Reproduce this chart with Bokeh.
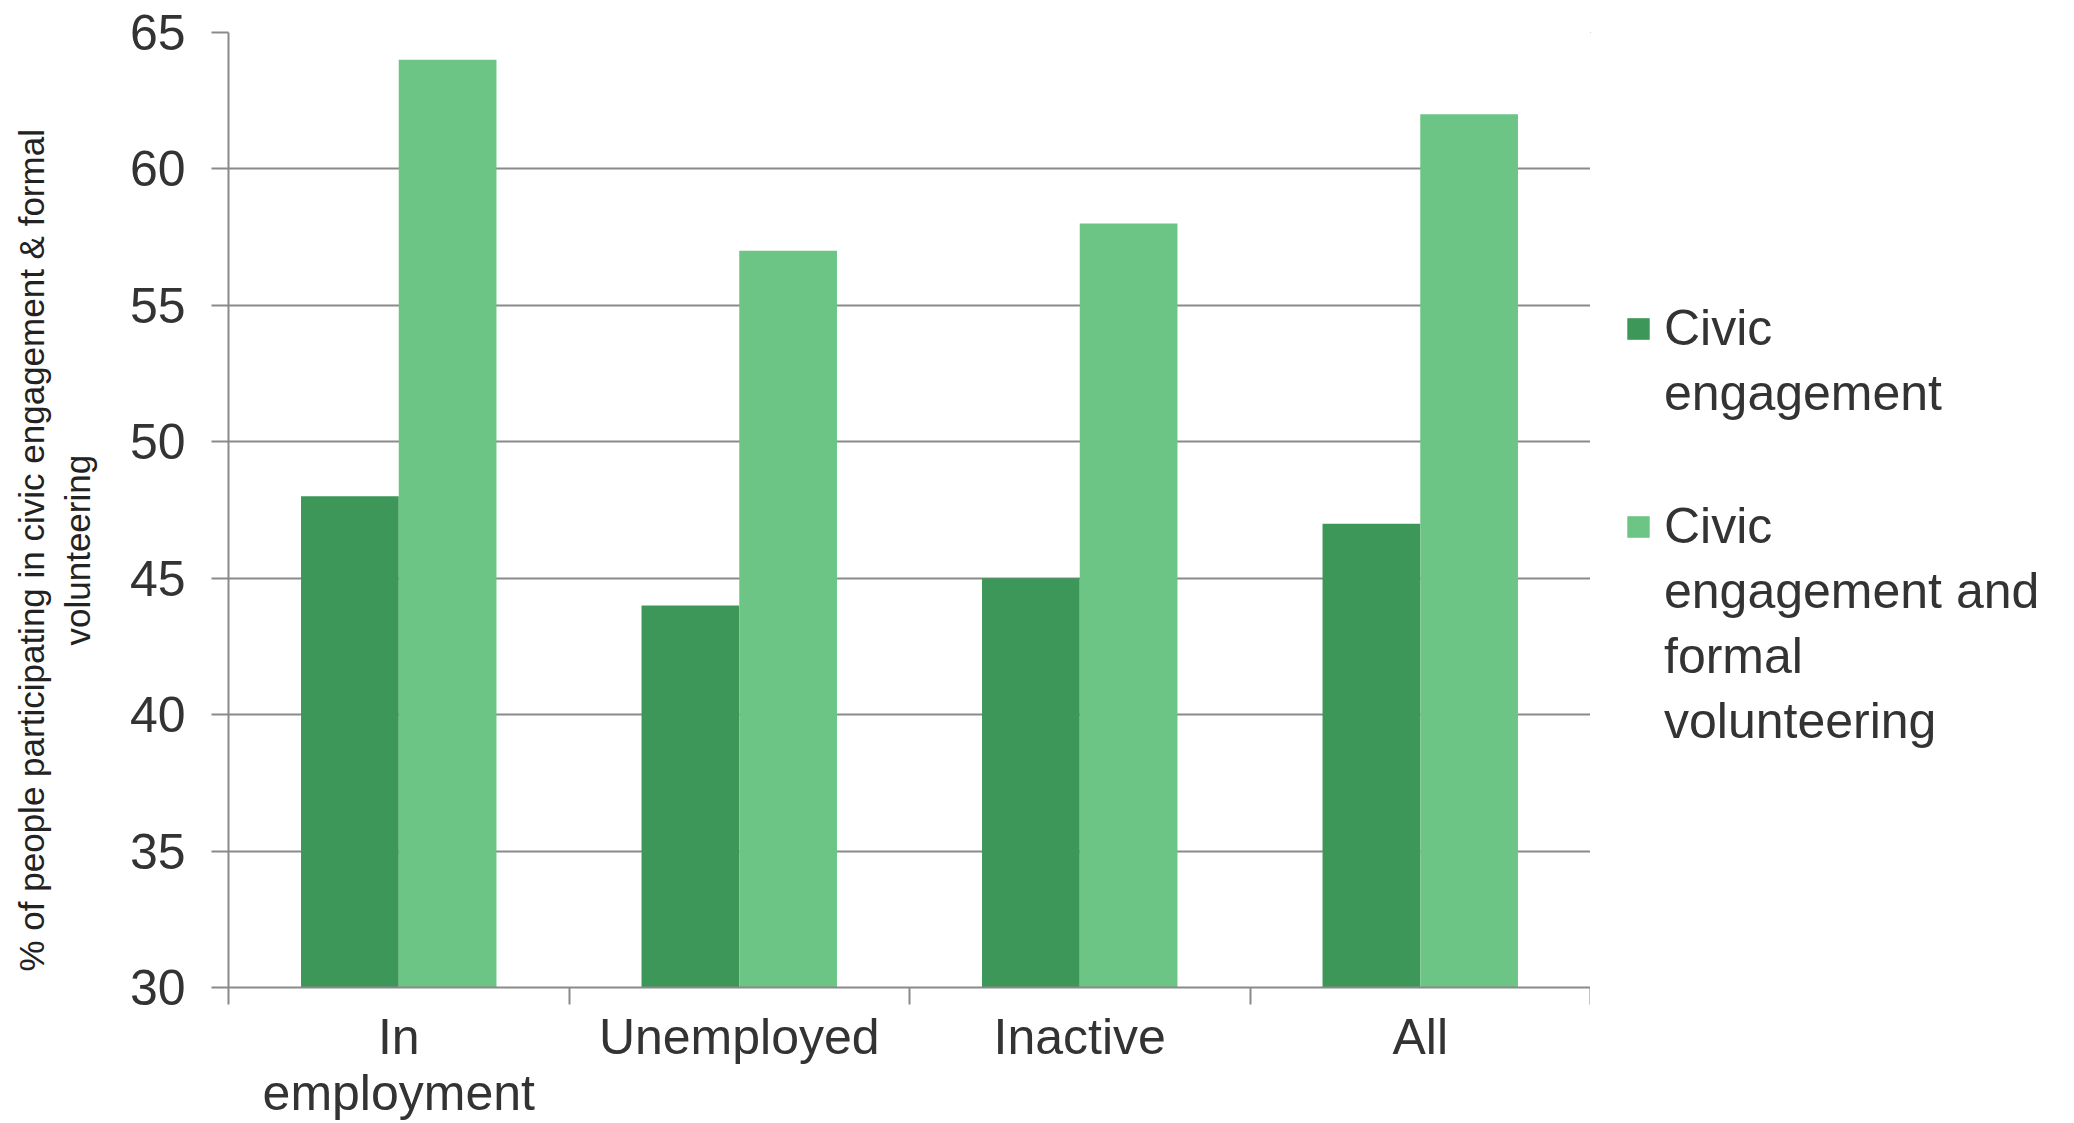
from bokeh.plotting import figure
from bokeh.layouts import row
from bokeh.models import Range1d, FixedTicker, Legend, LegendItem, Title
from bokeh.embed import file_html
from bokeh.resources import INLINE

# ---- data ----
categories = ["In\nemployment", "Unemployed", "Inactive", "All"]
civic_engagement = [48, 44, 45, 47]
civic_and_formal_volunteering = [64, 57, 58, 62]
y_tick_values = [30, 35, 40, 45, 50, 55, 60, 65]
series_1_lines = ["Civic", "engagement"]
series_2_lines = ["Civic", "engagement and", "formal", "volunteering"]
y_axis_title_lines = ["% of people participating in civic engagement  & formal", "volunteering"]

# ---- style ----
DARK = "#3d9758"
LIGHT = "#6cc585"
GRID = "#8a8a8a"
TEXT = "#333333"
FONT = "Liberation Sans"
BAR_W = 0.287

W, H = 2074, 1123
LEFT, TOP, BOTTOM = 228, 32, 136
FRAME_W = 1362
LEGEND_W = W - LEFT - FRAME_W

n = len(categories)
centers = list(range(n))
boundaries = [i - 0.5 for i in range(n + 1)]

p = figure(width=LEFT + FRAME_W, height=H,
           x_range=Range1d(-0.5, n - 0.5), y_range=Range1d(30, 65),
           output_backend="svg", toolbar_location=None,
           min_border_left=LEFT, min_border_top=TOP,
           min_border_right=0, min_border_bottom=BOTTOM)
p.outline_line_color = None
p.background_fill_color = "white"
p.border_fill_color = "white"

r1 = p.vbar(x=[c - BAR_W / 2 for c in centers], top=civic_engagement, bottom=30,
            width=BAR_W, fill_color=DARK, line_color=None)
r2 = p.vbar(x=[c + BAR_W / 2 for c in centers], top=civic_and_formal_volunteering, bottom=30,
            width=BAR_W, fill_color=LIGHT, line_color=None)

# x axis
xa = p.xaxis[0]
xa.ticker = FixedTicker(ticks=centers, minor_ticks=boundaries)
xa.major_label_overrides = {i: c for i, c in enumerate(categories)}
xa.major_tick_out = 0
xa.major_tick_in = 0
xa.major_tick_line_color = None
xa.minor_tick_out = 17
xa.minor_tick_in = 0
xa.minor_tick_line_color = GRID
xa.minor_tick_line_width = 2
xa.axis_line_color = GRID
xa.axis_line_width = 2
xa.major_label_standoff = 4
xa.major_label_text_font = FONT
xa.major_label_text_font_size = "50px"
xa.major_label_text_color = TEXT
xa.major_label_text_line_height = 1.0
p.xgrid.visible = False

# y axis
ya = p.yaxis[0]
ya.ticker = FixedTicker(ticks=y_tick_values, minor_ticks=[])
ya.major_tick_out = 17
ya.major_tick_in = 0
ya.major_tick_line_color = GRID
ya.major_tick_line_width = 2
ya.minor_tick_line_color = None
ya.axis_line_color = GRID
ya.axis_line_width = 2
ya.major_label_standoff = 26
ya.major_label_text_font = FONT
ya.major_label_text_font_size = "50px"
ya.major_label_text_color = TEXT
p.ygrid.grid_line_color = GRID
p.ygrid.grid_line_width = 2

# y axis title: two side titles (inner line first), each line centred on its own
spacer = Title(text=" ", text_font_size="1px", standoff=21)
t_inner = Title(text=y_axis_title_lines[1], align="left", offset=342, standoff=11,
                text_font=FONT, text_font_size="35px", text_font_style="normal",
                text_color="#222222")
t_outer = Title(text=y_axis_title_lines[0], align="left", offset=16, standoff=0,
                text_font=FONT, text_font_size="35px", text_font_style="normal",
                text_color="#222222")
p.add_layout(spacer, "left")
p.add_layout(t_inner, "left")
p.add_layout(t_outer, "left")

# ---- legend panel (right of the chart) ----
# the same series are drawn here outside the visible ranges, only to feed the legend swatches
lf = figure(width=LEGEND_W, height=H, x_range=Range1d(10, 11), y_range=Range1d(0, 1),
            x_axis_type=None, y_axis_type=None, output_backend="svg",
            toolbar_location=None, min_border=0)
lf.outline_line_color = None
lf.background_fill_color = "white"
lf.border_fill_color = "white"
sw1 = lf.vbar(x=centers, top=civic_engagement, bottom=30, width=BAR_W,
              fill_color=DARK, line_color=None)
sw2 = lf.vbar(x=centers, top=civic_and_formal_volunteering, bottom=30, width=BAR_W,
              fill_color=LIGHT, line_color=None)
blank = lf.vbar(x=[], top=[], width=0.1, fill_alpha=0, line_alpha=0)

items = [LegendItem(label=series_1_lines[0], renderers=[sw1])]
items += [LegendItem(label=t, renderers=[blank]) for t in series_1_lines[1:]]
items += [LegendItem(label=" ", renderers=[blank]), LegendItem(label="  ", renderers=[blank])]
items += [LegendItem(label=series_2_lines[0], renderers=[sw2])]
items += [LegendItem(label=t, renderers=[blank]) for t in series_2_lines[1:]]

legend = Legend(items=items, location=(34, 237))
legend.padding = 0
legend.margin = 0
legend.border_line_color = None
legend.background_fill_alpha = 0
legend.label_standoff = 12
legend.glyph_width = 28
legend.glyph_height = 27
legend.spacing = 7
legend.label_text_font = FONT
legend.label_text_font_size = "50px"
legend.label_text_color = TEXT
lf.add_layout(legend, "center")

layout = row(p, lf)
open("out.html", "w").write(file_html(layout, INLINE))
